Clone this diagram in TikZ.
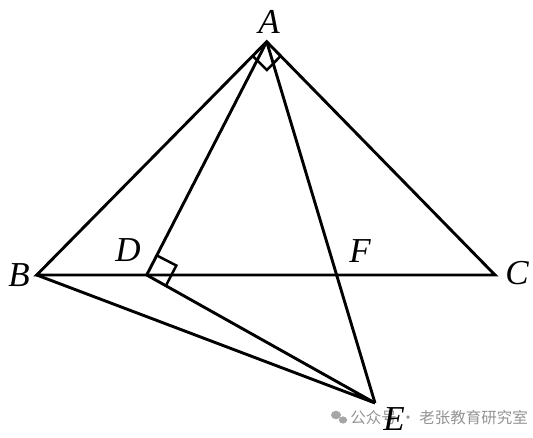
\documentclass[tikz,border=0pt]{standalone}
\usepackage{fontspec}
\setmainfont{Liberation Serif}
\newfontfamily\cjk{Noto Sans CJK SC}
\usetikzlibrary{calc}
\begin{document}
\begin{tikzpicture}[x=1pt,y=-1pt, line width=2.9pt, line join=miter,
  lbl/.style={inner sep=0pt, font=\fontsize{35}{35}\selectfont\itshape},
  rmark/.style={line width=2.5pt},
  wm/.style={inner sep=0pt, text=black!42, font=\cjk\fontsize{15.5}{15.5}\selectfont}]
\useasboundingbox (0,0) rectangle (533,438);
\coordinate (A) at (266.7,41.7);
\coordinate (B) at (36.7,275);
\coordinate (C) at (495,275);
\coordinate (D) at (146.7,275);
\coordinate (E) at (375,403);
\coordinate (F) at (335,275);
% triangle
\draw (B) -- (A) -- (C) -- cycle;
\draw (A) -- (D);
\draw (A) -- (E);
\draw (B) -- (E) -- (D);
% right angle marks
\draw[rmark] ($(A)!20pt!(B)$) -- ($(A)!20pt!(B)!20pt!90:(B)$) -- ($(A)!20pt!(C)$);
\draw[rmark] ($(D)!22pt!(A)$) -- ($(D)!22pt!(A)!22pt!-90:(A)$) -- ($(D)!22pt!(E)$);
% labels
\node[lbl] (lA) at (269,22) {A};
\node[lbl] (lB) at (19,275) {B};
\node[lbl] (lC) at (517,273) {C};
\node[lbl] (lD) at (128,250) {D};
\node[lbl] (lF) at (360,251) {F};
% watermark
\fill[black!35] (336,415) ellipse (5pt and 4.2pt);
\fill[black!35] (343,420) ellipse (4.2pt and 3.6pt);
\node[wm, anchor=west] (wm) at (349,418) {公众号 · 老张教育研究室};
\node[lbl] (lE) at (394,419) {E};
\end{tikzpicture}
\end{document}
